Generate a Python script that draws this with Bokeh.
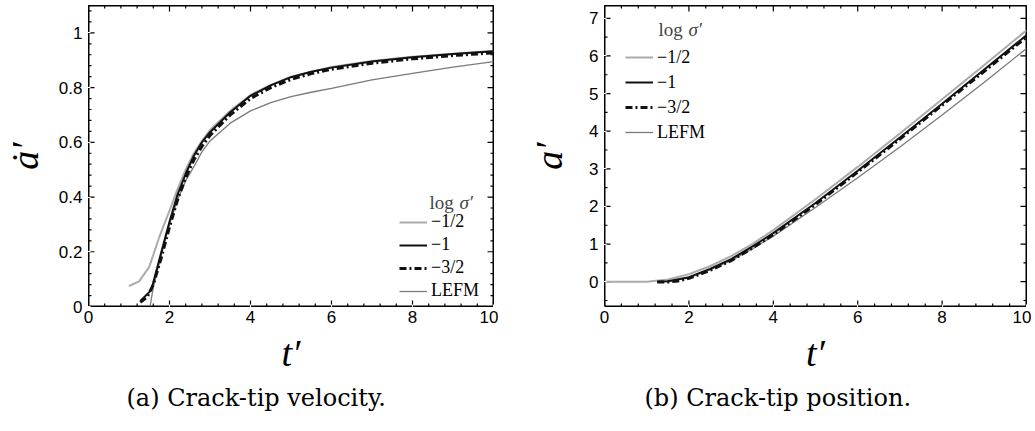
import math
import numpy as np
from bokeh.plotting import figure
from bokeh.models import (Range1d, SingleIntervalTicker, CustomJSTickFormatter,
                          Legend, LegendItem, Label, Title, Spacer)
from bokeh.layouts import row
from bokeh.embed import file_html
from bokeh.resources import INLINE

# ---------------- data: (a) crack-tip velocity ----------------
v_half_t = [1.0, 1.25, 1.5, 1.75, 2.0, 2.2, 2.4, 2.6, 2.8, 3.0, 3.5, 4.0, 4.5, 5.0, 6.0, 7.0, 8.0, 9.0, 10.0]
v_half_y = [0.075, 0.092, 0.145, 0.255, 0.35, 0.43, 0.50, 0.56, 0.605, 0.645, 0.715, 0.773, 0.81, 0.84, 0.875, 0.897, 0.913, 0.924, 0.934]

v_one_t = [1.28, 1.55, 1.8, 2.0, 2.2, 2.4, 2.6, 2.8, 3.0, 3.5, 4.0, 4.5, 5.0, 5.5, 6.0, 7.0, 8.0, 9.0, 10.0]
v_one_y = [0.02, 0.06, 0.20, 0.31, 0.41, 0.485, 0.55, 0.60, 0.637, 0.71, 0.77, 0.808, 0.838, 0.858, 0.873, 0.895, 0.911, 0.923, 0.933]

v_three_t = [1.28, 1.45, 1.6, 1.8, 2.0, 2.2, 2.4, 2.6, 2.8, 3.0, 3.5, 4.0, 4.5, 5.0, 5.5, 6.0, 7.0, 8.0, 9.0, 10.0]
v_three_y = [0.015, 0.035, 0.08, 0.18, 0.29, 0.39, 0.47, 0.535, 0.585, 0.625, 0.70, 0.76, 0.80, 0.83, 0.851, 0.867, 0.889, 0.905, 0.917, 0.927]

v_lefm_t = [1.52, 1.6, 1.7, 1.8, 2.0, 2.2, 2.4, 2.6, 2.8, 3.0, 3.5, 4.0, 4.5, 5.0, 5.5, 6.0, 7.0, 8.0, 9.0, 10.0]
v_lefm_y = [0.0, 0.07, 0.13, 0.19, 0.30, 0.39, 0.46, 0.51, 0.565, 0.605, 0.67, 0.715, 0.745, 0.767, 0.783, 0.797, 0.828, 0.852, 0.875, 0.895]

# ---------------- data: (b) crack-tip position ----------------
a_half_t = [0.0, 1.0, 1.5, 2.0, 2.5, 3.0, 3.5, 4.0, 5.0, 6.0, 7.0, 8.0, 9.0, 10.0]
a_half_y = [0.0, 0.0, 0.06, 0.20, 0.41, 0.68, 1.00, 1.37, 2.19, 3.05, 3.94, 4.85, 5.76, 6.68]

a_one_t = [1.25, 1.5, 2.0, 2.5, 3.0, 3.5, 4.0, 5.0, 6.0, 7.0, 8.0, 9.0, 10.0]
a_one_y = [0.0, 0.01, 0.12, 0.34, 0.60, 0.93, 1.29, 2.09, 2.95, 3.83, 4.73, 5.64, 6.55]

a_three_t = [1.25, 1.5, 1.75, 2.0, 2.5, 3.0, 3.5, 4.0, 5.0, 6.0, 7.0, 8.0, 9.0, 10.0]
a_three_y = [-0.01, -0.01, 0.02, 0.09, 0.30, 0.56, 0.89, 1.25, 2.05, 2.91, 3.79, 4.69, 5.59, 6.50]

a_lefm_t = [1.5, 2.0, 2.5, 3.0, 3.5, 4.0, 5.0, 6.0, 7.0, 8.0, 9.0, 10.0]
a_lefm_y = [0.0, 0.10, 0.31, 0.56, 0.87, 1.21, 1.97, 2.76, 3.58, 4.43, 5.30, 6.20]

# ---------------- ticks / labels ----------------
x_major = [0, 2, 4, 6, 8, 10]
x_minor_step = 0.4
ya_major = [0, 0.2, 0.4, 0.6, 0.8, 1.0]
ya_minor_step = 0.04
yb_major = [0, 1, 2, 3, 4, 5, 6, 7]
yb_minor_step = 0.5

labels = ["\u22121/2", "\u22121", "\u22123/2", "LEFM"]
ylabel_a = "\u0227\u2032"
ylabel_b = "a\u2032"
xlabel = "t\u2032"
captions = ["(a) Crack-tip velocity.", "(b) Crack-tip position."]

C_HALF = "#ababab"
C_ONE = "#111111"
C_LEFM = "#7a7a7a"

SERIF = "Liberation Serif"
SANS = "Liberation Sans"
MAJ_PX, MIN_PX = 6, 3


def minor_ticks(lo, hi, step, majors):
    out = []
    k = math.ceil(lo / step - 1e-9)
    while k * step <= hi + 1e-9:
        v = round(k * step, 6)
        if all(abs(v - m) > 1e-6 for m in majors):
            out.append(v)
        k += 1
    return out


def make_fig(width, height, xr, yr, ymaj, ymin_step, frame_w, frame_h, ylabel, ystandoff):
    p = figure(width=width, height=height, x_range=Range1d(*xr), y_range=Range1d(*yr),
               output_backend="svg", toolbar_location=None)
    p.xgrid.visible = False
    p.ygrid.visible = False
    p.outline_line_color = "black"

    yinterval = ymaj[1] - ymaj[0]
    p.xaxis[0].ticker = SingleIntervalTicker(interval=x_major[1] - x_major[0], num_minor_ticks=0)
    p.yaxis[0].ticker = SingleIntervalTicker(interval=yinterval, num_minor_ticks=0)
    for ax in (p.xaxis[0], p.yaxis[0]):
        ax.formatter = CustomJSTickFormatter(code="return String(parseFloat(tick.toFixed(2)));")
        ax.major_tick_out = 2
        ax.minor_tick_out = 1
        ax.major_tick_line_color = "white"
        ax.minor_tick_line_color = "white"
        ax.axis_line_color = "black"
        ax.major_label_text_font = SANS
        ax.major_label_text_font_size = "17px"
        ax.major_label_text_color = "black"
        ax.axis_label_text_font = SERIF
        ax.axis_label_text_font_style = "italic"
        ax.axis_label_text_font_size = "38px"
        ax.axis_label_text_color = "black"
    p.xaxis[0].major_label_standoff = 2
    p.yaxis[0].major_label_standoff = 4
    p.xaxis[0].axis_label = xlabel
    p.xaxis[0].axis_label_standoff = 6
    p.yaxis[0].axis_label = ylabel
    p.yaxis[0].axis_label_standoff = ystandoff

    # frame box and inward ticks, drawn as line glyphs broken by NaN
    x0, x1 = xr
    y0, y1 = yr
    px_x = frame_w / (x1 - x0)
    px_y = frame_h / (y1 - y0)
    xmin = minor_ticks(x0, x1, x_minor_step, x_major)
    ymn = minor_ticks(y0, y1, ymin_step, ymaj)
    ymj = [v for v in ymaj if y0 <= v <= y1]
    tx, ty = [], []
    nan = float("nan")
    for xs, L in ((x_major, MAJ_PX / px_y), (xmin, MIN_PX / px_y)):
        for v in xs:
            tx += [v, v, nan, v, v, nan]
            ty += [y0, y0 + L, nan, y1, y1 - L, nan]
    for ys, L in ((ymj, MAJ_PX / px_x), (ymn, MIN_PX / px_x)):
        for v in ys:
            tx += [x0, x0 + L, nan, x1, x1 - L, nan]
            ty += [v, v, nan, v, v, nan]
    p.line(np.array(tx, dtype=float), np.array(ty, dtype=float), line_color="black", line_width=1.2)
    p.line(np.array([x0, x1, x1, x0, x0], dtype=float), np.array([y0, y0, y1, y1, y0], dtype=float),
           line_color="black", line_width=2)
    return p


def add_lines(p, data):
    r1 = p.line(data[0][0], data[0][1], line_color=C_HALF, line_width=2)
    r4 = p.line(data[3][0], data[3][1], line_color=C_LEFM, line_width=1.3)
    r2 = p.line(data[1][0], data[1][1], line_color=C_ONE, line_width=2)
    r3 = p.line(data[2][0], data[2][1], line_color=C_ONE, line_width=3, line_dash="7 3 2 3")
    return [r1, r2, r3, r4]


def add_legend(p, rs, loc, gh, sp, title_xy):
    leg = Legend(items=[LegendItem(label=l, renderers=[r]) for l, r in zip(labels, rs)],
                 location=loc, orientation="vertical",
                 border_line_color=None, background_fill_alpha=0,
                 padding=0, margin=0, spacing=sp,
                 glyph_width=28, glyph_height=gh, label_height=gh, label_standoff=4,
                 label_text_font=SERIF, label_text_font_size="18px", label_text_color="black",
                 label_text_line_height=1.0)
    p.add_layout(leg)
    tx, ty = title_xy
    p.add_layout(Label(x=tx, y=ty, x_units="screen", y_units="screen", text="log",
                       text_font=SERIF, text_font_size="19px", text_baseline="middle"))
    p.add_layout(Label(x=tx + 30, y=ty, x_units="screen", y_units="screen", text="\u03c3\u2032",
                       text_font=SERIF, text_font_style="italic", text_font_size="19px",
                       text_baseline="middle"))


def add_caption(p, text, offset):
    t = Title(text=text, align="left", offset=offset, text_font="DejaVu Serif",
              text_font_size="24px", text_font_style="normal", text_color="black", standoff=11)
    p.add_layout(t, "below")


# ---------- panel (a)
p1 = make_fig(498, 417, (0, 10), (0, 1.1), ya_major, ya_minor_step, 406, 306, ylabel_a, 10)
rs1 = add_lines(p1, [(v_half_t, v_half_y), (v_one_t, v_one_y), (v_three_t, v_three_y), (v_lefm_t, v_lefm_y)])
add_legend(p1, rs1, (311, 5), 20, 2, (341, 104))
add_caption(p1, captions[0], 38)

# ---------- panel (b)
p2 = make_fig(506, 417, (0, 10), (-0.66, 7.34), yb_major, yb_minor_step, 419, 306, ylabel_b, 16)
rs2 = add_lines(p2, [(a_half_t, a_half_y), (a_one_t, a_one_y), (a_three_t, a_three_y), (a_lefm_t, a_lefm_y)])
add_legend(p2, rs2, (21, 163), 22, 3, (54, 277))
add_caption(p2, captions[1], 40)

layout = row(p1, Spacer(width=27, height=10), p2)
open("out.html", "w").write(file_html(layout, INLINE))
